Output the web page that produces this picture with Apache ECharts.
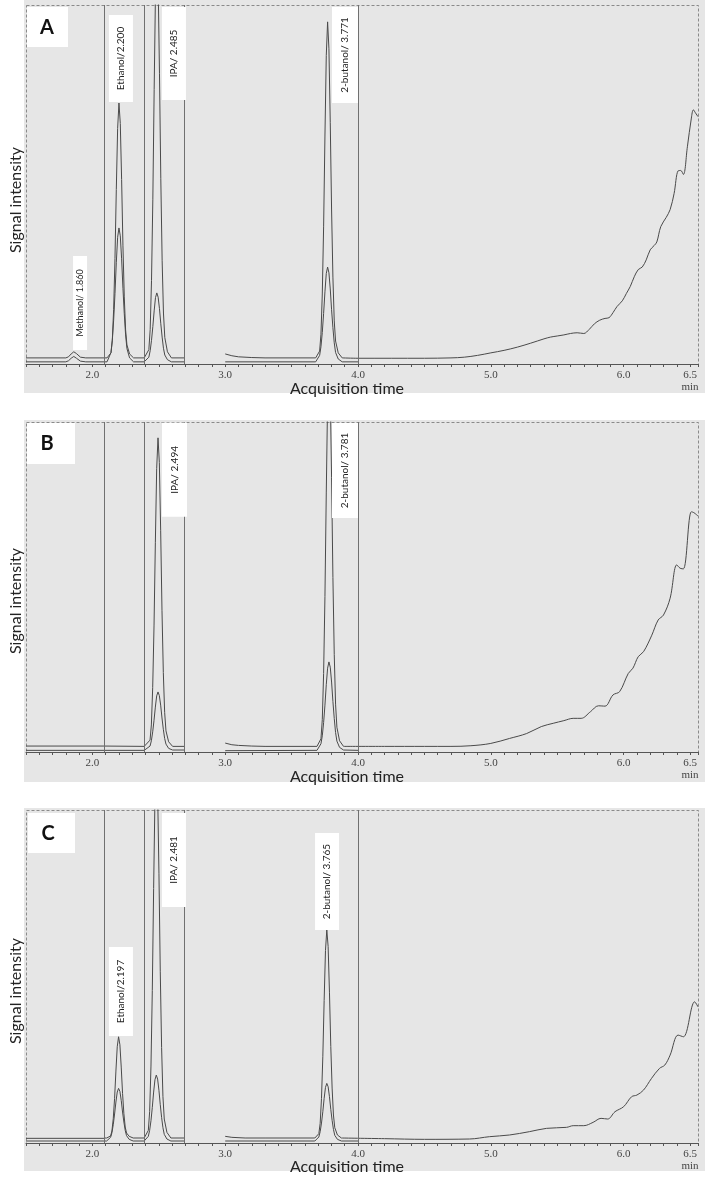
<!DOCTYPE html>
<html>
<head>
<meta charset="utf-8">
<script src="https://cdn.jsdelivr.net/npm/echarts@6/dist/echarts.min.js"></script>
<style>html,body{margin:0;padding:0;background:#fff}#c{width:705px;height:1181px}</style>
</head>
<body>
<div id="c"></div>
<script>
// ---------- DATA (time in min, signal in % of panel height) ----------
const TICK_LABELS = [2.0, 3.0, 4.0, 5.0, 6.0, 6.5];
const SEGMENT_BOUNDS = [2.09, 2.39, 2.69, 4.0];

// Panel A
const A_T1 = [[1.5,1.7],[1.8,1.7],[1.82,2.0],[1.83,2.4],[1.84,2.8],[1.85,3.2],[1.86,3.4],[1.87,3.3],[1.88,2.9],[1.89,2.4],[1.91,1.9],[1.95,1.7],[2.09,1.7]];
const A_S1 = [[1.5,0.6],[1.8,0.6],[1.82,0.9],[1.83,1.2],[1.84,1.6],[1.85,1.9],[1.86,2.1],[1.87,2.0],[1.88,1.6],[1.89,1.2],[1.91,0.8],[1.95,0.6],[2.09,0.6]];
const A_T2 = [[2.09,1.7],[2.11,1.7],[2.14,3.1],[2.15,6.7],[2.16,15.2],[2.17,29.4],[2.18,48.6],[2.19,65.6],[2.20,72.7],[2.21,67.0],[2.22,51.4],[2.23,32.9],[2.24,18.7],[2.25,9.5],[2.26,5.3],[2.28,2.8],[2.31,1.7],[2.39,1.7]];
const A_S2 = [[2.09,0.6],[2.11,0.6],[2.14,3.2],[2.15,6.6],[2.16,12.2],[2.17,19.6],[2.18,28.2],[2.19,35.3],[2.20,37.9],[2.21,35.7],[2.22,29.3],[2.23,21.1],[2.24,14.0],[2.25,8.1],[2.26,4.3],[2.28,1.7],[2.31,0.6],[2.39,0.6]];
const A_T3 = [[2.39,1.7],[2.395,1.7],[2.425,4.0],[2.435,9.6],[2.445,23.2],[2.455,45.9],[2.465,76.5],[2.475,103.7],[2.485,115],[2.495,105.9],[2.505,81.0],[2.515,51.6],[2.525,28.9],[2.535,14.2],[2.545,7.4],[2.565,3.4],[2.595,1.7],[2.69,1.7]];
const A_S3 = [[2.39,0.6],[2.395,0.6],[2.425,1.9],[2.435,3.7],[2.445,6.6],[2.455,10.4],[2.465,14.8],[2.475,18.5],[2.485,19.8],[2.495,18.6],[2.505,15.4],[2.515,11.2],[2.525,7.5],[2.535,4.4],[2.545,2.5],[2.565,1.2],[2.595,0.6],[2.69,0.6]];
const A_T4 = [[3.00,2.8],[3.05,2.3],[3.10,2.0],[3.20,1.8],[3.30,1.7],[3.681,1.7],[3.711,3.6],[3.721,8.3],[3.731,19.5],[3.741,38.2],[3.751,63.5],[3.761,85.9],[3.771,95.3],[3.781,87.8],[3.791,67.2],[3.801,42.9],[3.811,24.2],[3.821,12.0],[3.831,6.4],[3.851,3.1],[3.881,1.7]];
const A_T5 = [[3.881,1.7],[4.00,1.6],[4.50,1.6],[4.70,1.7],[4.80,1.9],[4.90,2.4],[5.00,3.1],[5.10,3.8],[5.20,4.7],[5.30,5.8],[5.40,7.0],[5.45,7.5],[5.50,7.8],[5.55,8.1],[5.60,8.5],[5.65,8.7],[5.70,8.5],[5.74,9.6],[5.78,11.2],[5.82,12.2],[5.86,12.7],[5.89,12.9],[5.92,14.3],[5.95,16.0],[5.99,17.6],[6.02,19.6],[6.05,21.6],[6.08,24.3],[6.11,26.3],[6.14,27.0],[6.17,29.0],[6.20,31.8],[6.23,33.0],[6.25,34.0],[6.28,38.3],[6.32,40.8],[6.35,43.0],[6.38,47.5],[6.41,53.8],[6.43,53.9],[6.45,52.8],[6.48,60.5],[6.51,68.5],[6.525,70.8],[6.54,70.0],[6.56,68.9]];
const A_S4 = [[3.0,0.6],[3.681,0.6],[3.711,2.4],[3.721,4.8],[3.731,8.8],[3.741,14.1],[3.751,20.1],[3.761,25.2],[3.771,27.0],[3.781,25.4],[3.791,20.9],[3.801,15.1],[3.811,10.1],[3.821,5.9],[3.831,3.2],[3.851,1.4],[3.881,0.6],[4.0,0.6]];

// Panel B
const B_T1 = [[1.5,1.8],[2.09,1.8]];
const B_S1 = [[1.5,0.5],[2.09,0.5]];
const B_T2 = [[2.09,1.8],[2.39,1.7]];
const B_S2 = [[2.09,0.5],[2.39,0.5]];
const B_T3 = [[2.39,1.7],[2.404,1.7],[2.434,3.6],[2.444,8.2],[2.454,19.5],[2.464,38.2],[2.474,63.4],[2.484,85.9],[2.494,95.2],[2.504,87.7],[2.514,67.2],[2.524,42.8],[2.534,24.1],[2.544,12.0],[2.554,6.4],[2.574,3.1],[2.604,1.7],[2.69,1.7]];
const B_S3 = [[2.39,0.5],[2.404,0.6],[2.434,1.8],[2.444,3.4],[2.454,6.1],[2.464,9.6],[2.474,13.6],[2.484,17.0],[2.494,18.2],[2.504,17.1],[2.514,14.2],[2.524,10.3],[2.534,6.9],[2.544,4.1],[2.554,2.4],[2.574,1.1],[2.604,0.6],[2.69,0.6]];
const B_T4 = [[3.00,2.7],[3.05,2.2],[3.10,2.0],[3.20,1.8],[3.30,1.7],[3.691,1.7],[3.721,4.0],[3.731,9.8],[3.741,23.8],[3.751,47.1],[3.761,78.5],[3.771,106.4],[3.781,118],[3.791,108.7],[3.801,83.1],[3.811,52.9],[3.821,29.6],[3.831,14.5],[3.841,7.5],[3.861,3.4],[3.891,1.7]];
const B_T5 = [[3.891,1.7],[4.20,1.7],[4.50,1.7],[4.70,1.7],[4.85,1.9],[5.00,2.6],[5.14,4.1],[5.27,5.6],[5.38,7.7],[5.47,8.7],[5.55,9.5],[5.62,10.2],[5.68,10.2],[5.75,12.2],[5.81,14.0],[5.86,13.9],[5.92,17.3],[5.97,18.3],[6.035,23.8],[6.07,25.4],[6.11,28.9],[6.15,30.4],[6.21,35.2],[6.26,40.0],[6.30,41.5],[6.35,46.6],[6.40,56.7],[6.425,55.7],[6.45,55.5],[6.51,72.8],[6.53,72.5],[6.56,71.5]];
const B_S4 = [[3.0,0.4],[3.691,0.5],[3.721,2.5],[3.731,4.9],[3.741,8.9],[3.751,14.2],[3.761,20.4],[3.771,25.4],[3.781,27.3],[3.791,25.7],[3.801,21.2],[3.811,15.3],[3.821,10.2],[3.831,5.9],[3.841,3.3],[3.861,1.4],[3.891,0.6],[4.0,0.5]];

// Panel C
const C_T1 = [[1.5,1.4],[2.09,1.4]];
const C_S1 = [[1.5,0.6],[2.09,0.6]];
const C_T2 = [[2.09,1.5],[2.107,1.5],[2.137,2.1],[2.147,3.6],[2.157,7.3],[2.167,13.4],[2.177,21.6],[2.187,28.9],[2.197,31.9],[2.207,29.5],[2.217,22.8],[2.227,14.9],[2.237,8.8],[2.247,4.8],[2.257,3.0],[2.277,2.0],[2.307,1.5],[2.39,1.5]];
const C_S2 = [[2.09,0.6],[2.107,0.6],[2.137,1.7],[2.147,3.1],[2.157,5.5],[2.167,8.7],[2.177,12.3],[2.187,15.3],[2.197,16.4],[2.207,15.5],[2.217,12.8],[2.227,9.3],[2.237,6.3],[2.247,3.8],[2.257,2.2],[2.277,1.1],[2.307,0.6],[2.39,0.6]];
const C_T3 = [[2.39,1.5],[2.391,1.5],[2.421,3.8],[2.431,9.4],[2.441,23.1],[2.451,45.8],[2.461,76.4],[2.471,103.7],[2.481,115],[2.491,105.9],[2.501,81.0],[2.511,51.4],[2.521,28.7],[2.531,14.0],[2.541,7.2],[2.561,3.2],[2.591,1.5],[2.69,1.5]];
const C_S3 = [[2.39,0.6],[2.391,0.6],[2.421,2.0],[2.431,3.8],[2.441,6.7],[2.451,10.7],[2.461,15.3],[2.471,19.0],[2.481,20.4],[2.491,19.2],[2.501,15.8],[2.511,11.5],[2.521,7.7],[2.531,4.6],[2.541,2.6],[2.561,1.2],[2.591,0.6],[2.69,0.6]];
const C_T4 = [[3.00,2.0],[3.05,1.7],[3.15,1.5],[3.30,1.5],[3.675,1.5],[3.705,2.8],[3.715,5.9],[3.725,13.4],[3.735,25.9],[3.745,42.8],[3.755,57.8],[3.765,64.0],[3.775,59.0],[3.785,45.3],[3.795,29.0],[3.805,16.5],[3.815,8.4],[3.825,4.6],[3.845,2.4],[3.875,1.5]];
const C_T5 = [[3.875,1.5],[4.2,1.3],[4.5,1.1],[4.84,1.2],[4.99,1.9],[5.14,2.4],[5.29,3.4],[5.42,4.4],[5.57,4.7],[5.62,5.2],[5.70,5.2],[5.77,6.2],[5.83,7.4],[5.88,7.2],[5.935,9.4],[6.00,10.9],[6.06,13.9],[6.10,14.4],[6.15,15.9],[6.21,19.4],[6.27,22.4],[6.31,23.4],[6.35,26.4],[6.41,32.4],[6.45,31.9],[6.535,42.4],[6.56,40.9]];
const C_S4 = [[3.0,0.6],[3.675,0.6],[3.705,1.8],[3.715,3.4],[3.725,6.0],[3.735,9.4],[3.745,13.4],[3.755,16.7],[3.765,17.9],[3.775,16.9],[3.785,13.9],[3.795,10.1],[3.805,6.8],[3.815,4.1],[3.825,2.3],[3.845,1.1],[3.875,0.6],[4.0,0.6]];

// Peak annotations
const A_PEAK_NAMES = ['Methanol/ 1.860', 'Ethanol/2.200', 'IPA/ 2.485', '2-butanol/ 3.771'];
const B_PEAK_NAMES = ['IPA/ 2.494', '2-butanol/ 3.781'];
const C_PEAK_NAMES = ['Ethanol/2.197', 'IPA/ 2.481', '2-butanol/ 3.765'];
const PANEL_LETTERS = ['A', 'B', 'C'];

// ---------- LAYOUT ----------
const GRIDS = [
  {top: 5, height: 359},
  {top: 422, height: 330},
  {top: 810, height: 333}
];
const BG = [[0, 393], [420, 782], [808, 1171]];
const LEFT = 26, RIGHT_PX = 698;
// annotation box layout: [x, y (data coords of box centre), w, h, fontSize]
const A_BOX = [[1.907,17.0,14,94,9],[2.215,85.1,24,87,10],[2.614,86.5,24,93,10],[3.902,86.1,26,96,10]];
const B_BOX = [[2.618,85.5,25,94,10],[3.902,85.3,26,95,10]];
const C_BOX = [[2.215,45.5,24,89,10],[2.614,85.0,24,94,10],[3.767,78.5,24,97,10]];

const PANEL_SEGS = [
  [A_T1,A_S1,A_T2,A_S2,A_T3,A_S3,A_T4,A_S4],
  [B_T1,B_S1,B_T2,B_S2,B_T3,B_S3,B_T4,B_S4],
  [C_T1,C_S1,C_T2,C_S2,C_T3,C_S3,C_T4,C_S4]
];
const PANEL_LATE = [A_T5, B_T5, C_T5];
const PANEL_NAMES = [A_PEAK_NAMES, B_PEAK_NAMES, C_PEAK_NAMES];
const PANEL_BOX = [A_BOX, B_BOX, C_BOX];

const LINE_COLOR = '#4a4a4a';
const chart = echarts.init(document.getElementById('c'), null, {renderer: 'canvas'});

const grid = [], xAxis = [], yAxis = [], series = [], graphic = [];

GRIDS.forEach((g, i) => {
  grid.push({left: LEFT, right: 705 - RIGHT_PX, top: g.top, height: g.height, containLabel: false});
  xAxis.push({
    type: 'value', gridIndex: i, min: 1.5, max: 6.56, interval: 0.1,
    axisLine: {show: true, lineStyle: {color: '#555', width: 1}},
    axisTick: {show: true, length: 3, lineStyle: {color: '#555'}},
    splitLine: {show: false},
    axisLabel: {
      show: true, margin: 5, fontFamily: 'Liberation Serif', fontSize: 11, color: '#444', lineHeight: 12,
      formatter: v => {
        const m = TICK_LABELS.find(l => Math.abs(l - v) < 1e-6);
        if (m === undefined) return '';
        return m === 6.5 ? '6.5\nmin' : m.toFixed(1);
      }
    }
  });
  yAxis.push({type: 'value', gridIndex: i, min: 0, max: 100, show: false});

  PANEL_SEGS[i].forEach(d => series.push({
    type: 'line', xAxisIndex: i, yAxisIndex: i, data: d, symbol: 'none', smooth: false,
    lineStyle: {color: LINE_COLOR, width: 1}, animation: false, silent: true, clip: true, z: 3
  }));
  series.push({
    type: 'line', xAxisIndex: i, yAxisIndex: i, data: PANEL_LATE[i], symbol: 'none', smooth: 0.35,
    lineStyle: {color: LINE_COLOR, width: 1}, animation: false, silent: true, clip: true, z: 3
  });
  // annotation + segment lines
  series.push({
    type: 'line', xAxisIndex: i, yAxisIndex: i, data: [], symbol: 'none', animation: false, silent: true,
    markLine: {
      silent: true, symbol: 'none', animation: false,
      label: {show: false},
      lineStyle: {color: '#707070', width: 1, type: 'solid'},
      data: SEGMENT_BOUNDS.map(b => ({xAxis: b}))
    },
    markPoint: {
      silent: true, animation: false,
      data: PANEL_NAMES[i].map((n, k) => {
        const bx = PANEL_BOX[i][k];
        return {
          coord: [bx[0], bx[1]], symbol: 'rect', symbolSize: [bx[2], bx[3]],
          itemStyle: {color: '#ffffff'},
          label: {show: true, position: 'inside', formatter: n, rotate: 90,
                  fontFamily: 'Lato', fontSize: bx[4], color: '#222'}
        };
      })
    }
  });

  // background
  graphic.push({type: 'rect', z: -20, silent: true,
    shape: {x: 24, y: BG[i][0], width: 681, height: BG[i][1] - BG[i][0]},
    style: {fill: '#e6e6e6'}});
  // dashed frame
  graphic.push({type: 'rect', z: -5, silent: true,
    shape: {x: LEFT + 0.5, y: g.top + 0.5, width: RIGHT_PX - LEFT, height: g.height},
    style: {fill: null, stroke: '#8a8a8a', lineWidth: 1, lineDash: [3, 2]}});
  // panel letter box
  const lb = [[27, 7, 41, 40], [27, 423, 48, 41], [28, 813, 47, 40]][i];
  graphic.push({type: 'rect', z: 10, silent: true, shape: {x: lb[0], y: lb[1], width: lb[2], height: lb[3]}, style: {fill: '#fff'}});
  graphic.push({type: 'text', z: 11, silent: true, x: lb[0] + 20, y: lb[1] + 21,
    style: {text: PANEL_LETTERS[i], font: 'bold 20px Lato', fill: '#111', textAlign: 'center', textVerticalAlign: 'middle'}});
  // axis titles
  const ty = [200, 601, 991][i];
  graphic.push({type: 'text', z: 11, silent: true, x: 16, y: ty, rotation: Math.PI / 2,
    style: {text: 'Signal intensity', font: '16px Lato', fill: '#222', textAlign: 'center', textVerticalAlign: 'middle'}});
  const ay = [389, 777, 1167][i];
  graphic.push({type: 'text', z: 11, silent: true, x: 347, y: ay,
    style: {text: 'Acquisition time', font: '16px Lato', fill: '#222', textAlign: 'center', textVerticalAlign: 'middle'}});
});

chart.setOption({
  backgroundColor: '#ffffff',
  animation: false,
  grid, xAxis, yAxis, series, graphic
});
</script>
</body>
</html>
